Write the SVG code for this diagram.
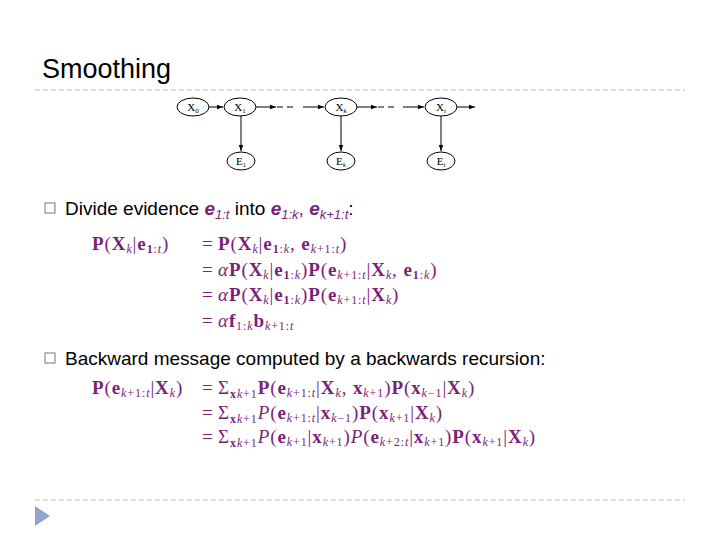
<svg xmlns="http://www.w3.org/2000/svg" width="720" height="540" viewBox="0 0 720 540">
<defs>
<style>
.t{font-family:"Liberation Sans",Arial,sans-serif;fill:#000}
.m{font-family:"Liberation Serif","Times New Roman",serif;fill:#7a1f7a;font-size:19px;letter-spacing:0.9px}
.b{font-weight:bold}
.n{fill:#fff;stroke:#000;stroke-width:1}
.nl{font-family:"Liberation Serif",serif;font-size:11px;text-anchor:middle;fill:#000}
.c{stroke:#000;stroke-width:1;fill:none}
.sep{stroke:#bbb;stroke-width:1;stroke-dasharray:5,3}
</style>
<marker id="a" markerWidth="6" markerHeight="6" refX="6" refY="3" orient="auto" markerUnits="userSpaceOnUse"><path d="M0,0.8L6,3L0,5.2z" fill="#000"/></marker>
</defs>
<rect width="720" height="540" fill="#fff"/>
<text class="t" x="42" y="78" font-size="27" fill="#222">Smoothing</text>
<line class="sep" x1="35" y1="90" x2="685" y2="90"/>
<line class="sep" x1="35" y1="500" x2="685" y2="500"/>
<path d="M35,506L50,516L35,526z" fill="#8ea5c8"/>
<g id="connectors">
<line class="c" x1="209" y1="107" x2="223" y2="107" marker-end="url(#a)"/>
<line class="c" x1="256" y1="107" x2="276" y2="107" marker-end="url(#a)"/>
<line class="c" x1="277" y1="107" x2="296" y2="107" stroke-dasharray="6,4"/>
<line class="c" x1="303" y1="107" x2="324" y2="107" marker-end="url(#a)"/>
<line class="c" x1="357" y1="107" x2="377" y2="107" marker-end="url(#a)"/>
<line class="c" x1="378" y1="107" x2="397" y2="107" stroke-dasharray="6,4"/>
<line class="c" x1="403" y1="107" x2="424" y2="107" marker-end="url(#a)"/>
<line class="c" x1="457" y1="107" x2="475" y2="107" marker-end="url(#a)"/>
<line class="c" x1="241" y1="116" x2="241" y2="151" marker-end="url(#a)"/>
<line class="c" x1="341" y1="116" x2="341" y2="151" marker-end="url(#a)"/>
<line class="c" x1="441" y1="116" x2="441" y2="151" stroke-width="1.5" marker-end="url(#a)"/>
</g>
<g id="X0"><ellipse class="n" cx="193" cy="107" rx="16" ry="9"/><text class="nl" x="193" y="111">X<tspan font-size="7" dy="2">0</tspan></text></g>
<g id="X1"><ellipse class="n" cx="240" cy="107" rx="16" ry="9"/><text class="nl" x="240" y="111">X<tspan font-size="7" dy="2">1</tspan></text></g>
<g id="Xk"><ellipse class="n" cx="341" cy="107" rx="16" ry="9"/><text class="nl" x="341" y="111">X<tspan font-size="7" dy="2" font-style="italic">k</tspan></text></g>
<g id="Xt"><ellipse class="n" cx="441" cy="107" rx="16" ry="9"/><text class="nl" x="441" y="111">X<tspan font-size="7" dy="2" font-style="italic">t</tspan></text></g>
<g id="E1"><ellipse class="n" cx="241" cy="161" rx="14" ry="9"/><text class="nl" x="241" y="165">E<tspan font-size="7" dy="2">1</tspan></text></g>
<g id="Ek"><ellipse class="n" cx="341" cy="161" rx="14" ry="9"/><text class="nl" x="341" y="165">E<tspan font-size="7" dy="2" font-style="italic">k</tspan></text></g>
<g id="Et"><ellipse class="n" cx="441" cy="161" rx="14" ry="9"/><text class="nl" x="441" y="165">E<tspan font-size="7" dy="2" font-style="italic">t</tspan></text></g>

<rect x="45" y="203" width="10" height="10" fill="none" stroke="#555" stroke-width="0.8"/>
<text class="t" x="65" y="215" font-size="19">Divide evidence <tspan fill="#7a1f7a" font-weight="bold" font-style="italic">e</tspan><tspan fill="#7a1f7a" font-style="italic" font-size="13" dy="4">1:t</tspan><tspan dy="-4"> into </tspan><tspan fill="#7a1f7a" font-weight="bold" font-style="italic">e</tspan><tspan fill="#7a1f7a" font-style="italic" font-size="13" dy="4">1:k</tspan><tspan dy="-4" fill="#7a1f7a">, </tspan><tspan fill="#7a1f7a" font-weight="bold" font-style="italic">e</tspan><tspan fill="#7a1f7a" font-style="italic" font-size="13" dy="4">k+1:t</tspan><tspan dy="-4">:</tspan></text>

<text class="m" x="92" y="250"><tspan class="b">P</tspan>(<tspan class="b">X</tspan><tspan font-size="12" dy="3" font-style="italic">k</tspan><tspan dy="-3">|</tspan><tspan class="b">e</tspan><tspan font-size="12" dy="3"><tspan class="b">1</tspan>:<tspan font-style="italic">t</tspan></tspan><tspan dy="-3">)</tspan></text>
<text class="m" x="202" y="250">=</text>
<text class="m" x="218" y="250"><tspan class="b">P</tspan>(<tspan class="b">X</tspan><tspan font-size="12" dy="3" font-style="italic">k</tspan><tspan dy="-3">|</tspan><tspan class="b">e</tspan><tspan font-size="12" dy="3"><tspan class="b">1</tspan>:<tspan font-style="italic">k</tspan></tspan><tspan dy="-3">, </tspan><tspan class="b">e</tspan><tspan font-size="12" dy="3"><tspan font-style="italic">k</tspan>+1:<tspan font-style="italic">t</tspan></tspan><tspan dy="-3">)</tspan></text>
<text class="m" x="202" y="276">=</text>
<text class="m" x="218" y="276"><tspan font-style="italic">α</tspan><tspan class="b">P</tspan>(<tspan class="b">X</tspan><tspan font-size="12" dy="3" font-style="italic">k</tspan><tspan dy="-3">|</tspan><tspan class="b">e</tspan><tspan font-size="12" dy="3"><tspan class="b">1</tspan>:<tspan font-style="italic">k</tspan></tspan><tspan dy="-3">)</tspan><tspan class="b">P</tspan>(<tspan class="b">e</tspan><tspan font-size="12" dy="3"><tspan font-style="italic">k</tspan>+1:<tspan font-style="italic">t</tspan></tspan><tspan dy="-3">|</tspan><tspan class="b">X</tspan><tspan font-size="12" dy="3" font-style="italic">k</tspan><tspan dy="-3">, </tspan><tspan class="b">e</tspan><tspan font-size="12" dy="3"><tspan class="b">1</tspan>:<tspan font-style="italic">k</tspan></tspan><tspan dy="-3">)</tspan></text>
<text class="m" x="202" y="301">=</text>
<text class="m" x="218" y="301"><tspan font-style="italic">α</tspan><tspan class="b">P</tspan>(<tspan class="b">X</tspan><tspan font-size="12" dy="3" font-style="italic">k</tspan><tspan dy="-3">|</tspan><tspan class="b">e</tspan><tspan font-size="12" dy="3"><tspan class="b">1</tspan>:<tspan font-style="italic">k</tspan></tspan><tspan dy="-3">)</tspan><tspan class="b">P</tspan>(<tspan class="b">e</tspan><tspan font-size="12" dy="3"><tspan font-style="italic">k</tspan>+1:<tspan font-style="italic">t</tspan></tspan><tspan dy="-3">|</tspan><tspan class="b">X</tspan><tspan font-size="12" dy="3" font-style="italic">k</tspan><tspan dy="-3">)</tspan></text>
<text class="m" x="202" y="327">=</text>
<text class="m" x="218" y="327"><tspan font-style="italic">α</tspan><tspan class="b">f</tspan><tspan font-size="12" dy="3">1:<tspan font-style="italic">k</tspan></tspan><tspan class="b" dy="-3">b</tspan><tspan font-size="12" dy="3"><tspan font-style="italic">k</tspan>+1:<tspan font-style="italic">t</tspan></tspan></text>

<rect x="45" y="353" width="10" height="10" fill="none" stroke="#555" stroke-width="0.8"/>
<text class="t" x="65" y="365" font-size="19">Backward message computed by a backwards recursion:</text>

<text class="m" x="92" y="394"><tspan class="b">P</tspan>(<tspan class="b">e</tspan><tspan font-size="12" dy="3"><tspan font-style="italic">k</tspan>+1:<tspan font-style="italic">t</tspan></tspan><tspan dy="-3">|</tspan><tspan class="b">X</tspan><tspan font-size="12" dy="3" font-style="italic">k</tspan><tspan dy="-3">)</tspan></text>
<text class="m" x="202" y="394">=</text>
<text class="m" x="218" y="394">Σ<tspan font-size="12" dy="4"><tspan class="b">x</tspan><tspan font-style="italic">k</tspan>+1</tspan><tspan class="b" dy="-4">P</tspan>(<tspan class="b">e</tspan><tspan font-size="12" dy="3"><tspan font-style="italic">k</tspan>+1:<tspan font-style="italic">t</tspan></tspan><tspan dy="-3">|</tspan><tspan class="b">X</tspan><tspan font-size="12" dy="3" font-style="italic">k</tspan><tspan dy="-3">, </tspan><tspan class="b">x</tspan><tspan font-size="12" dy="3"><tspan font-style="italic">k</tspan>+1</tspan><tspan dy="-3">)</tspan><tspan class="b">P</tspan>(<tspan class="b">x</tspan><tspan font-size="12" dy="3"><tspan font-style="italic">k</tspan>−1</tspan><tspan dy="-3">|</tspan><tspan class="b">X</tspan><tspan font-size="12" dy="3" font-style="italic">k</tspan><tspan dy="-3">)</tspan></text>
<text class="m" x="202" y="419">=</text>
<text class="m" x="218" y="419">Σ<tspan font-size="12" dy="4"><tspan class="b">x</tspan><tspan font-style="italic">k</tspan>+1</tspan><tspan font-style="italic" dy="-4">P</tspan>(<tspan class="b">e</tspan><tspan font-size="12" dy="3"><tspan font-style="italic">k</tspan>+1:<tspan font-style="italic">t</tspan></tspan><tspan dy="-3">|</tspan><tspan class="b">x</tspan><tspan font-size="12" dy="3"><tspan font-style="italic">k</tspan>−1</tspan><tspan dy="-3">)</tspan><tspan class="b">P</tspan>(<tspan class="b">x</tspan><tspan font-size="12" dy="3"><tspan font-style="italic">k</tspan>+1</tspan><tspan dy="-3">|</tspan><tspan class="b">X</tspan><tspan font-size="12" dy="3" font-style="italic">k</tspan><tspan dy="-3">)</tspan></text>
<text class="m" x="202" y="443">=</text>
<text class="m" x="218" y="443">Σ<tspan font-size="12" dy="4"><tspan class="b">x</tspan><tspan font-style="italic">k</tspan>+1</tspan><tspan font-style="italic" dy="-4">P</tspan>(<tspan class="b">e</tspan><tspan font-size="12" dy="3"><tspan font-style="italic">k</tspan>+1</tspan><tspan dy="-3">|</tspan><tspan class="b">x</tspan><tspan font-size="12" dy="3"><tspan font-style="italic">k</tspan>+1</tspan><tspan dy="-3">)</tspan><tspan font-style="italic">P</tspan>(<tspan class="b">e</tspan><tspan font-size="12" dy="3"><tspan font-style="italic">k</tspan>+2:<tspan font-style="italic">t</tspan></tspan><tspan dy="-3">|</tspan><tspan class="b">x</tspan><tspan font-size="12" dy="3"><tspan font-style="italic">k</tspan>+1</tspan><tspan dy="-3">)</tspan><tspan class="b">P</tspan>(<tspan class="b">x</tspan><tspan font-size="12" dy="3"><tspan font-style="italic">k</tspan>+1</tspan><tspan dy="-3">|</tspan><tspan class="b">X</tspan><tspan font-size="12" dy="3" font-style="italic">k</tspan><tspan dy="-3">)</tspan></text>
</svg>
